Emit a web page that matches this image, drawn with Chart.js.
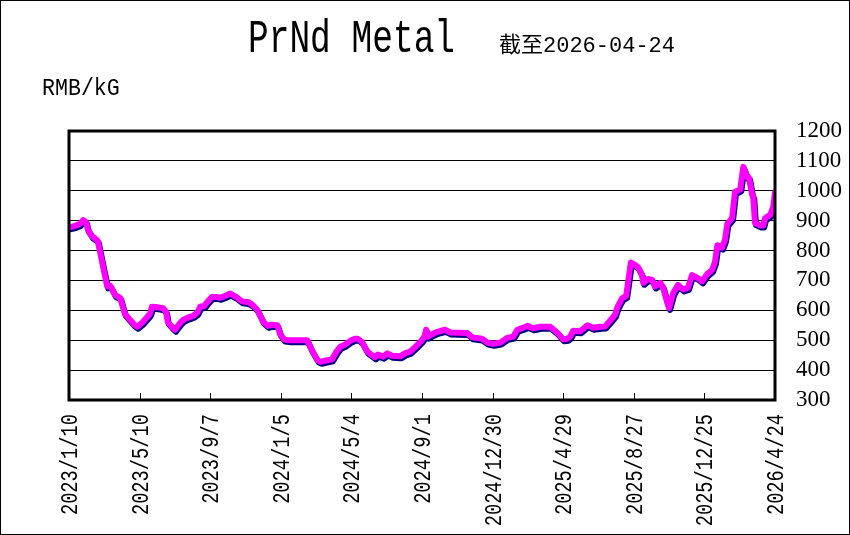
<!DOCTYPE html>
<html>
<head>
<meta charset="utf-8">
<script src="https://cdn.jsdelivr.net/npm/chart.js@4.4.1/dist/chart.umd.min.js"></script>
<style>
  html, body { margin: 0; padding: 0; background: #fff; }
  canvas { display: block; }
</style>
</head>
<body>
<canvas id="chart" width="850" height="535"></canvas>
<script>
// PrNd metal price, RMB/kG
const dates = [
  '2023-01-10','2023-01-20','2023-01-29','2023-02-03','2023-02-08','2023-02-11','2023-02-18','2023-02-25','2023-02-28',
  '2023-03-09','2023-03-16','2023-03-21','2023-03-24','2023-03-29','2023-04-07','2023-04-15','2023-04-24',
  '2023-05-01','2023-05-06','2023-05-14','2023-05-24','2023-05-28','2023-05-31','2023-06-10','2023-06-19','2023-06-24','2023-06-27',
  '2023-07-04','2023-07-09','2023-07-18','2023-07-23','2023-07-30','2023-08-09','2023-08-16','2023-08-21','2023-08-28',
  '2023-09-02','2023-09-10','2023-09-17','2023-09-24','2023-10-02','2023-10-11','2023-10-21','2023-10-31',
  '2023-11-10','2023-11-17','2023-11-26','2023-12-06','2023-12-14','2023-12-21','2023-12-30',
  '2024-01-04','2024-01-11','2024-01-21','2024-02-07','2024-02-19','2024-02-24','2024-02-29','2024-03-08','2024-03-13','2024-03-22',
  '2024-04-01','2024-04-08','2024-04-15','2024-04-23','2024-05-02','2024-05-10','2024-05-15','2024-05-22','2024-05-31',
  '2024-06-08','2024-06-13','2024-06-18','2024-06-27','2024-07-04','2024-07-12','2024-07-26','2024-08-03','2024-08-12','2024-08-24',
  '2024-09-01','2024-09-05','2024-09-08','2024-09-11','2024-09-18','2024-09-27','2024-10-10','2024-10-19',
  '2024-11-01','2024-11-17','2024-11-25','2024-12-05','2024-12-12','2024-12-21','2024-12-31',
  '2025-01-12','2025-01-24','2025-02-03','2025-02-10','2025-02-20','2025-02-27','2025-03-09','2025-03-21','2025-03-31',
  '2025-04-07','2025-04-19','2025-04-29','2025-05-06','2025-05-11','2025-05-16','2025-05-28','2025-06-09','2025-06-19',
  '2025-07-01','2025-07-09','2025-07-18','2025-07-26','2025-07-30','2025-08-07','2025-08-14','2025-08-17','2025-08-22','2025-08-29',
  '2025-09-03','2025-09-10','2025-09-12','2025-09-20','2025-09-27','2025-10-02','2025-10-11','2025-10-16','2025-10-23','2025-10-26',
  '2025-11-02','2025-11-10','2025-11-19','2025-11-27','2025-12-04','2025-12-14','2025-12-21','2025-12-30',
  '2026-01-07','2026-01-12','2026-01-16','2026-01-24','2026-01-29','2026-02-02','2026-02-10','2026-02-15','2026-02-24',
  '2026-03-01','2026-03-08','2026-03-11','2026-03-16','2026-03-18','2026-03-21','2026-03-30',
  '2026-04-04','2026-04-07','2026-04-16','2026-04-21','2026-04-24'
];

const prices = [
  878, 882, 890, 902, 895, 870, 848, 838, 832,
  745, 680, 682, 672, 652, 642, 588, 568,
  552, 545, 558, 580, 590, 612, 610, 607, 595, 560,
  545, 535, 558, 568, 575, 582, 592, 612, 615,
  628, 645, 645, 642, 648, 656, 645, 630,
  628, 620, 602, 562, 548, 552, 550,
  520, 502, 500, 500, 500, 478, 458, 432, 428, 432,
  436, 460, 478, 485, 498, 505, 505, 494, 462,
  450, 443, 452, 445, 456, 448, 446, 456, 462, 484,
  500, 512, 535, 512, 520, 528, 535, 526,
  525, 524, 510, 507, 505, 492, 488,
  492, 508, 512, 535, 542, 548, 540, 545, 545,
  545, 525, 503, 505, 512, 532, 530, 550, 542,
  545, 546, 566, 585, 610, 640, 648, 690, 760, 752,
  745, 718, 692, 705, 702, 680, 692, 676, 625, 608,
  658, 685, 670, 675, 718, 708, 697, 722,
  735, 762, 818, 810, 836, 890, 908, 996, 1005,
  1080, 1045, 1043, 988, 980, 892, 884,
  884, 908, 920, 946, 995
];

const xTickLabels = ['2023/1/10', '2023/5/10', '2023/9/7', '2024/1/5', '2024/5/4', '2024/9/1',
  '2024/12/30', '2025/4/29', '2025/8/27', '2025/12/25', '2026/4/24'];
const yMin = 300;
const yMax = 1200;

const titleText = 'PrNd Metal';
const subTitleText = '截至2026-04-24';
const unitText = 'RMB/kG';

const start = Date.UTC(2023, 0, 10);
function dayOf(s) {
  const [y, m, d] = s.split('-').map(Number);
  return Math.round((Date.UTC(y, m - 1, d) - start) / 86400000);
}
const points = dates.map((d, i) => ({ x: dayOf(d), y: prices[i] }));
const lastDay = dayOf(dates[dates.length - 1]);

// draw text squeezed horizontally (the original uses a narrow font)
function narrowText(ctx, text, x, y, font, sx) {
  ctx.save();
  ctx.translate(x, y);
  ctx.scale(sx, 1);
  ctx.font = font;
  ctx.fillStyle = '#000';
  ctx.textBaseline = 'alphabetic';
  ctx.textAlign = 'left';
  ctx.fillText(text, 0, 0);
  ctx.restore();
}

const shadowLine = {
  id: 'shadowLine',
  beforeDatasetDraw(chart) {
    const ctx = chart.ctx;
    ctx.save();
    ctx.shadowColor = '#000080';
    ctx.shadowOffsetX = 1;
    ctx.shadowOffsetY = 2;
    ctx.shadowBlur = 0;
  },
  afterDatasetDraw(chart) {
    chart.ctx.restore();
  }
};

const decorations = {
  id: 'decorations',
  afterDraw(chart) {
    const ctx = chart.ctx;
    const area = chart.chartArea;
    const xs = chart.scales.x;

    // plot frame
    ctx.save();
    ctx.strokeStyle = '#000';
    ctx.lineWidth = 3;
    ctx.strokeRect(area.left, area.top, area.right - area.left, area.bottom - area.top);

    // inner tick marks + rotated date labels
    ctx.lineWidth = 1;
    xs.ticks.forEach((t, i) => {
      const px = Math.round(xs.getPixelForValue(t.value)) + 0.5;
      ctx.beginPath();
      ctx.moveTo(px, area.bottom);
      ctx.lineTo(px, area.bottom - 7);
      ctx.stroke();

      ctx.save();
      ctx.translate(px + 1, area.bottom + 14);
      ctx.rotate(-Math.PI / 2);
      ctx.scale(0.78, 1);
      ctx.font = '24px "Liberation Mono"';
      ctx.fillStyle = '#000';
      ctx.textAlign = 'right';
      ctx.textBaseline = 'middle';
      ctx.fillText(xTickLabels[i] || '', 0, 0);
      ctx.restore();
    });

    // outer border of the picture
    ctx.strokeRect(0.5, 0.5, chart.width - 1, chart.height - 1);
    ctx.restore();

    narrowText(ctx, titleText, 248, 52, '46px "Liberation Mono"', 0.75);
    narrowText(ctx, subTitleText, 499, 52, '22px "Liberation Mono", "Noto Sans CJK SC"', 1);
    narrowText(ctx, unitText, 42, 95, '24px "Liberation Mono"', 0.9);
  }
};

new Chart(document.getElementById('chart'), {
  type: 'line',
  data: {
    datasets: [{
      data: points,
      borderColor: '#ff00ff',
      borderWidth: 6,
      borderJoinStyle: 'round',
      borderCapStyle: 'round',
      pointRadius: 0,
      tension: 0,
      fill: false
    }]
  },
  options: {
    responsive: false,
    animation: false,
    layout: { padding: { left: 69, top: 131, right: 0, bottom: 0 } },
    plugins: {
      legend: { display: false },
      title: { display: false },
      tooltip: { enabled: false }
    },
    scales: {
      x: {
        type: 'linear',
        min: 0,
        max: lastDay,
        grid: { display: false },
        border: { display: false },
        ticks: { display: false, stepSize: 120 },
        afterFit(scale) { scale.height = 135; }
      },
      y: {
        position: 'right',
        min: yMin,
        max: yMax,
        grid: { color: '#000', lineWidth: 1, drawTicks: false },
        border: { display: false },
        ticks: {
          stepSize: 100,
          autoSkip: false,
          padding: 21,
          color: '#000',
          font: { family: '"Liberation Serif"', size: 23 },
          callback: v => String(v)
        },
        afterFit(scale) { scale.width = 75; }
      }
    }
  },
  plugins: [shadowLine, decorations]
});
</script>
</body>
</html>
